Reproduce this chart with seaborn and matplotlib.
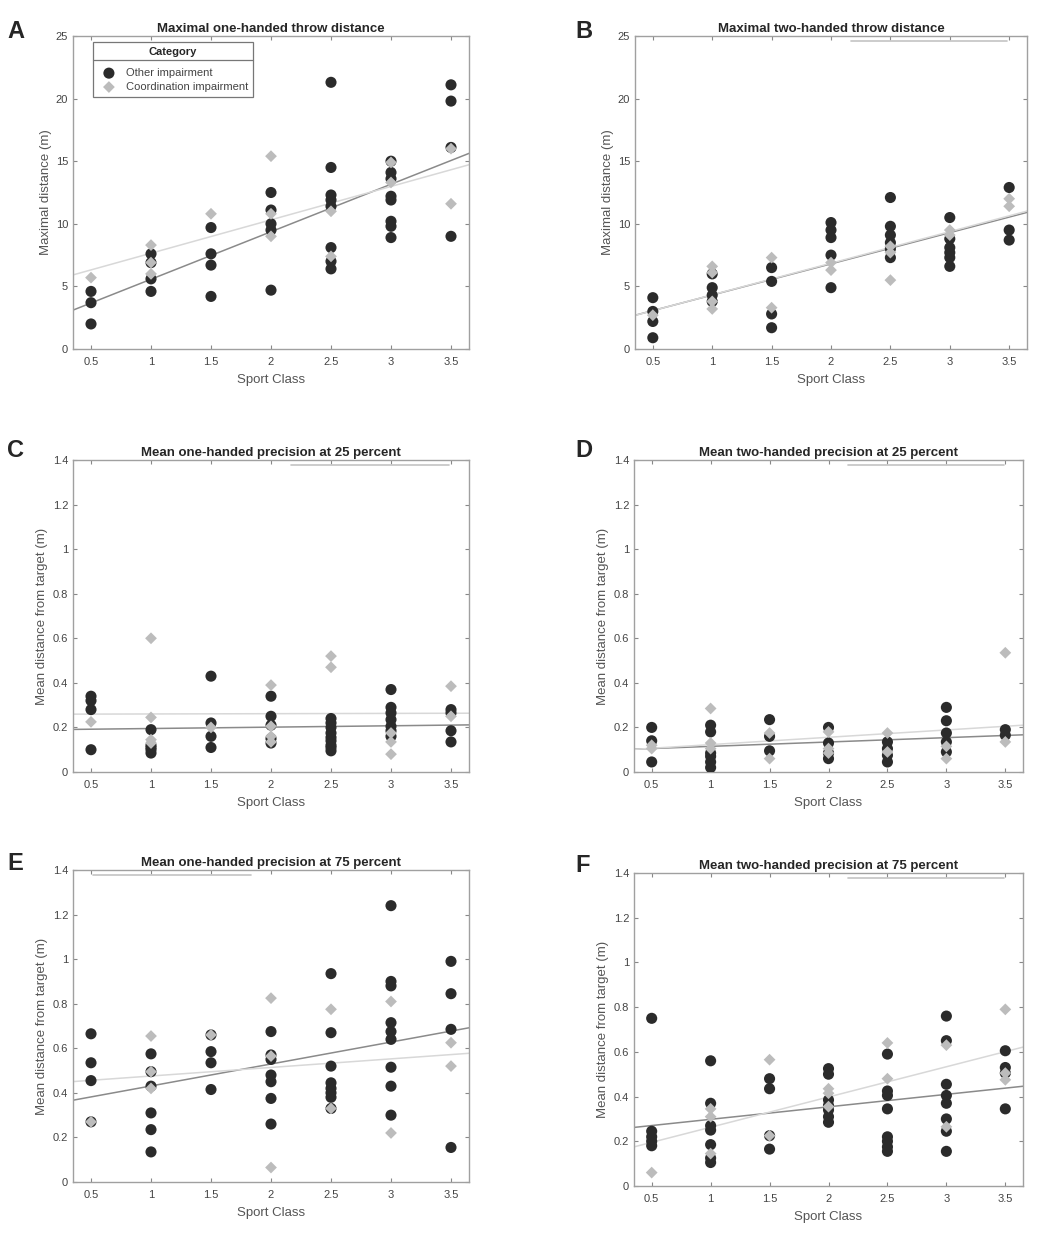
import numpy as np
import pandas as pd
import matplotlib
matplotlib.use('Agg')
import matplotlib.pyplot as plt
from matplotlib.ticker import FuncFormatter
from matplotlib.lines import Line2D
import seaborn as sns

# sport classes on the x axis
sport_classes = [0.5, 1, 1.5, 2, 2.5, 3, 3.5]

# one list of values per sport class
a_other = [[4.6, 3.7, 2.0], [7.6, 6.9, 5.6, 4.6], [9.7, 7.6, 6.7, 4.2],
           [12.5, 11.1, 10.0, 9.5, 4.7], [21.3, 14.5, 12.3, 11.9, 11.4, 8.1, 7.0, 6.4],
           [15.0, 14.1, 13.6, 12.2, 11.9, 10.2, 9.8, 8.9], [21.1, 19.8, 16.1, 9.0]]
a_coord = [[5.7], [8.3, 6.9, 6.0], [10.8], [15.4, 10.8, 9.0], [11.0, 7.4], [14.9, 13.3], [16.0, 11.6]]

b_other = [[4.1, 3.0, 2.2, 0.9], [6.0, 4.9, 4.3, 3.8], [6.5, 5.4, 2.8, 1.7],
           [10.1, 9.5, 8.9, 7.5, 4.9], [12.1, 9.8, 9.1, 8.5, 8.0, 7.3],
           [10.5, 8.8, 8.1, 7.7, 7.3, 6.6], [12.9, 9.5, 8.7]]
b_coord = [[2.7], [6.6, 6.1, 3.8, 3.2], [7.3, 3.3], [6.9, 6.3], [8.2, 7.7, 5.5], [9.5, 9.1], [12.0, 11.4]]

c_other = [[0.34, 0.32, 0.28, 0.10], [0.19, 0.12, 0.11, 0.10, 0.085], [0.43, 0.22, 0.16, 0.11],
           [0.34, 0.25, 0.21, 0.15, 0.13],
           [0.24, 0.22, 0.20, 0.175, 0.155, 0.14, 0.12, 0.11, 0.095],
           [0.37, 0.29, 0.265, 0.235, 0.205, 0.185, 0.16], [0.28, 0.265, 0.185, 0.135]]
c_coord = [[0.225], [0.60, 0.245, 0.145, 0.13], [0.20], [0.39, 0.205, 0.16, 0.135],
           [0.52, 0.47], [0.175, 0.135, 0.08], [0.385, 0.25]]

d_other = [[0.20, 0.14, 0.045], [0.21, 0.18, 0.085, 0.07, 0.045, 0.02], [0.235, 0.16, 0.095],
           [0.20, 0.13, 0.085, 0.06], [0.135, 0.105, 0.075, 0.045],
           [0.29, 0.23, 0.175, 0.135, 0.09], [0.19, 0.165]]
d_coord = [[0.12, 0.105], [0.285, 0.13, 0.105], [0.175, 0.06], [0.18, 0.105, 0.085],
           [0.175, 0.09], [0.115, 0.06], [0.535, 0.135]]

e_other = [[0.665, 0.535, 0.455, 0.27], [0.575, 0.495, 0.43, 0.31, 0.235, 0.135],
           [0.66, 0.585, 0.535, 0.415], [0.675, 0.57, 0.55, 0.48, 0.45, 0.375, 0.26],
           [0.935, 0.67, 0.52, 0.445, 0.42, 0.40, 0.38, 0.33],
           [1.24, 0.90, 0.88, 0.715, 0.675, 0.64, 0.515, 0.43, 0.30], [0.99, 0.845, 0.685, 0.155]]
e_coord = [[0.27], [0.655, 0.495, 0.42], [0.66], [0.825, 0.565, 0.065], [0.775, 0.33],
           [0.81, 0.22], [0.625, 0.52]]

f_other = [[0.75, 0.245, 0.22, 0.20, 0.18], [0.56, 0.37, 0.27, 0.25, 0.185, 0.125, 0.105],
           [0.48, 0.435, 0.225, 0.165], [0.525, 0.50, 0.385, 0.36, 0.34, 0.31, 0.285],
           [0.59, 0.425, 0.405, 0.345, 0.22, 0.20, 0.175, 0.155],
           [0.76, 0.65, 0.455, 0.405, 0.37, 0.30, 0.245, 0.155], [0.605, 0.53, 0.505, 0.345]]
f_coord = [[0.06], [0.345, 0.31, 0.145], [0.565, 0.225], [0.435, 0.415, 0.355], [0.64, 0.48],
           [0.63, 0.265], [0.79, 0.505, 0.475]]

OTHER = 'Other impairment'
COORD = 'Coordination impairment'

sns.set_style('ticks')
plt.rcParams['font.family'] = ['Liberation Sans', 'DejaVu Sans']

dark = '#2b2b2b'
light = '#bcbcbc'
line_dark = '#8a8a8a'
line_light = '#d8d8d8'
W, H = 1049, 1236


def to_frame(other, coord):
    rows = []
    for cls, vals in zip(sport_classes, other):
        rows += [(cls, v, OTHER) for v in vals]
    for cls, vals in zip(sport_classes, coord):
        rows += [(cls, v, COORD) for v in vals]
    return pd.DataFrame(rows, columns=['Sport Class', 'value', 'Category'])


dist_ticks = [0, 5, 10, 15, 20, 25]
prec_ticks = [0, 0.2, 0.4, 0.6, 0.8, 1, 1.2, 1.4]

# letter, title, ylabel, data, ylim, yticks, axes box in pixels (left, top, right, bottom),
# letter position, leftover legend edge (axes fraction) or None
panels = [
    ('A', 'Maximal one-handed throw distance', 'Maximal distance (m)', a_other, a_coord,
     (0, 25), dist_ticks, (73, 36, 469, 349), (7, 31), None),
    ('B', 'Maximal two-handed throw distance', 'Maximal distance (m)', b_other, b_coord,
     (0, 25), dist_ticks, (635, 36, 1027, 349), (575, 31), (0.55, 0.95)),
    ('C', 'Mean one-handed precision at 25 percent', 'Mean distance from target (m)', c_other, c_coord,
     (0, 1.4), prec_ticks, (73, 460, 469, 772), (7, 450), (0.55, 0.95)),
    ('D', 'Mean two-handed precision at 25 percent', 'Mean distance from target (m)', d_other, d_coord,
     (0, 1.4), prec_ticks, (634, 460, 1023, 772), (575, 450), (0.55, 0.95)),
    ('E', 'Mean one-handed precision at 75 percent', 'Mean distance from target (m)', e_other, e_coord,
     (0, 1.4), prec_ticks, (73, 870, 469, 1182), (7, 863), (0.05, 0.45)),
    ('F', 'Mean two-handed precision at 75 percent', 'Mean distance from target (m)', f_other, f_coord,
     (0, 1.4), prec_ticks, (634, 873, 1023, 1186), (575, 866), (0.55, 0.95)),
]

fig = plt.figure(figsize=(W / 100, H / 100), dpi=100)
fmt = FuncFormatter(lambda v, p: '%g' % v)
legend = None

for letter, title, ylabel, other, coord, ylim, yticks, box, lpos, ghost in panels:
    l, t, r, b = box
    ax = fig.add_axes([l / W, 1 - b / H, (r - l) / W, (b - t) / H])
    df = to_frame(other, coord)
    ax.set_xlim(0.35, 3.65)
    ax.set_ylim(*ylim)

    # linear fits across the full x range
    sns.regplot(data=df[df['Category'] == OTHER], x='Sport Class', y='value', scatter=False,
                ci=None, truncate=False, line_kws=dict(color=line_dark, lw=1.1, zorder=2), ax=ax)
    sns.regplot(data=df[df['Category'] == COORD], x='Sport Class', y='value', scatter=False,
                ci=None, truncate=False, line_kws=dict(color=line_light, lw=1.1, zorder=2), ax=ax)

    sns.scatterplot(data=df[df['Category'] == OTHER], x='Sport Class', y='value', marker='o',
                    s=64, color=dark, edgecolor='none', label=OTHER, zorder=3, ax=ax)
    sns.scatterplot(data=df[df['Category'] == COORD], x='Sport Class', y='value', marker='D',
                    s=36, color=light, edgecolor='none', label=COORD, zorder=4, ax=ax)

    ax.set_xlim(0.35, 3.65)
    ax.set_ylim(*ylim)
    ax.set_xticks(sport_classes)
    ax.set_yticks(yticks)
    ax.xaxis.set_major_formatter(fmt)
    ax.yaxis.set_major_formatter(fmt)
    ax.tick_params(direction='in', length=3, width=0.8, top=True, right=True,
                   color='#888888', labelcolor='#444444', labelsize=8)
    ax.tick_params(axis='x', pad=6)
    ax.tick_params(axis='y', pad=3.5)
    for sp in ax.spines.values():
        sp.set_color('#a0a0a0')
        sp.set_linewidth(1.0)
    ax.set_xlabel('Sport Class', fontsize=9.5, color='#555555', labelpad=5)
    ax.set_ylabel(ylabel, fontsize=9.5, color='#555555', labelpad=3)
    ax.set_title(title, fontsize=9.5, fontweight='bold', pad=3)
    fig.text(lpos[0] / W, 1 - lpos[1] / H, letter, fontsize=17, fontweight='bold',
             ha='left', va='center')

    # faint leftover legend edge seen near the top of most panels
    if ghost is not None:
        ax.axhline(ylim[1] * 0.985, xmin=ghost[0], xmax=ghost[1], color='#c4c4c4', lw=1.2, zorder=1)

    if letter == 'A':
        legend = ax.legend(title='Category', loc='upper left', bbox_to_anchor=(0.05, 0.981),
                           borderaxespad=0, fontsize=8, frameon=True, fancybox=False,
                           edgecolor='#777777', framealpha=1, handletextpad=0.5,
                           borderpad=0.45, labelspacing=0.35,
                           title_fontproperties={'weight': 'bold', 'size': 8})
        legend.get_frame().set_linewidth(0.9)
        # more room between the header and the entries
        legend._legend_box.sep = 8
        for txt in legend.get_texts():
            txt.set_color('#444444')
    elif ax.get_legend() is not None:
        ax.get_legend().remove()

# line under the legend title, like the MATLAB legend header
fig.canvas.draw()
renderer = fig.canvas.get_renderer()
lb = legend.get_window_extent(renderer)
tb = legend.get_title().get_window_extent(renderer)
yy = (tb.y0 - 3) / H
fig.add_artist(Line2D([lb.x0 / W, lb.x1 / W], [yy, yy], transform=fig.transFigure,
                      color='#777777', lw=0.9))

plt.savefig('out.png', dpi=100)
